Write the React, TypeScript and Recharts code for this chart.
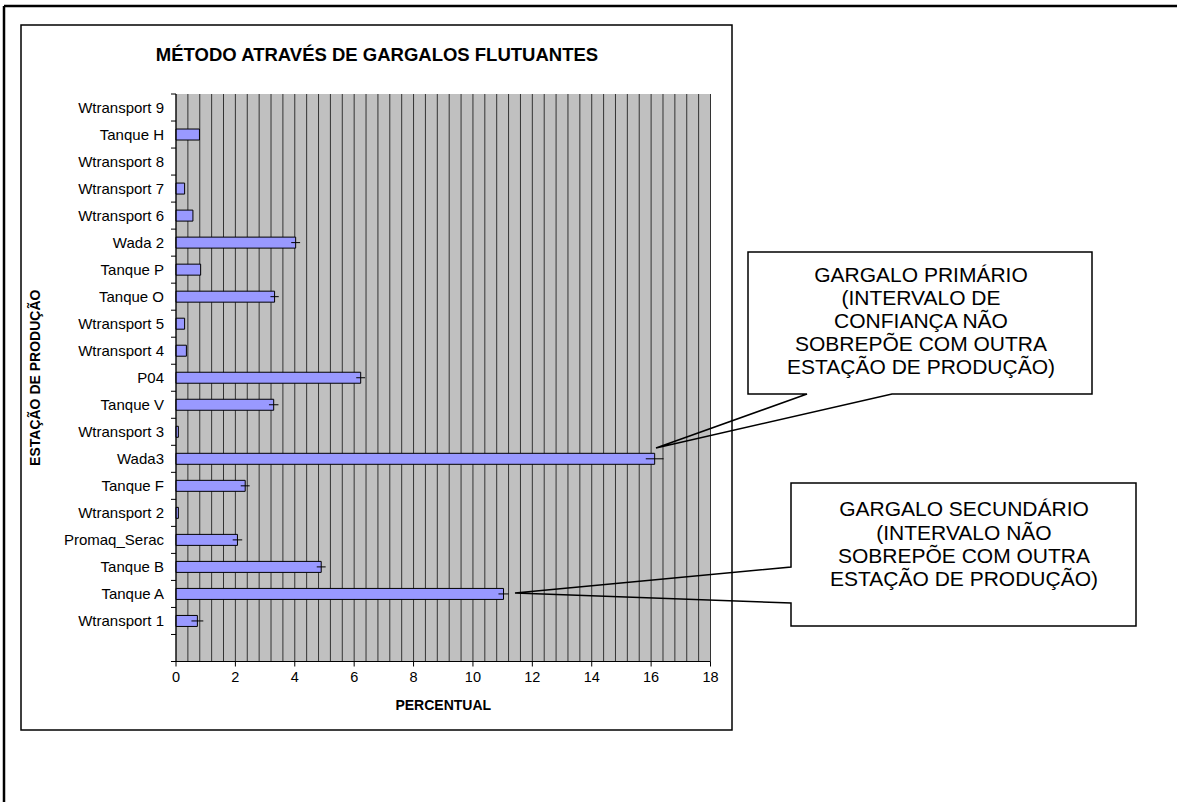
import { Bar, BarChart, CartesianGrid, ErrorBar, Label, XAxis, YAxis } from 'recharts';

const stations = [
  'Wtransport 9', 'Tanque H', 'Wtransport 8', 'Wtransport 7', 'Wtransport 6',
  'Wada 2', 'Tanque P', 'Tanque O', 'Wtransport 5', 'Wtransport 4',
  'P04', 'Tanque V', 'Wtransport 3', 'Wada3', 'Tanque F',
  'Wtransport 2', 'Promaq_Serac', 'Tanque B', 'Tanque A', 'Wtransport 1', '',
];
const percentual = [
  null, 0.79, null, 0.29, 0.57,
  4.03, 0.83, 3.32, 0.29, 0.35,
  6.22, 3.29, 0.08, 16.12, 2.33,
  0.08, 2.07, 4.89, 11.03, 0.72, null,
];
const halfInterval = [
  0, 0, 0, 0, 0,
  0.15, 0, 0.14, 0, 0,
  0.15, 0.16, 0, 0.3, 0.15,
  0, 0.16, 0.15, 0.17, 0.2, 0,
];
const xLabels = [0, 2, 4, 6, 8, 10, 12, 14, 16, 18];
// minor grid every 0.4
const gridTicks = Array.from({ length: 46 }, (_, i) => Math.round(i * 4) / 10);

const data = stations.map((name, i) => ({ name, pct: percentual[i], ci: halfInterval[i] }));

const FONT = '"Liberation Sans", Arial, sans-serif';

function StationTick(props: any) {
  const { x, y, payload, index } = props;
  const half = payload.offset ?? 13.5;
  return (
    <g>
      <text x={x - 12} y={y} textAnchor="end" dominantBaseline="central" fontSize={15} fontFamily={FONT} fill="#000">
        {payload.value}
      </text>
      <line x1={x - 5} x2={x} y1={y + half} y2={y + half} stroke="#000" />
      {index === 0 && <line x1={x - 5} x2={x} y1={y - half} y2={y - half} stroke="#000" />}
    </g>
  );
}

function PctTick(props: any) {
  const { x, y, payload } = props;
  const v = payload.value;
  if (!xLabels.some((l) => Math.abs(l - v) < 1e-6)) return null;
  return (
    <g>
      <line x1={x} x2={x} y1={y} y2={y + 5} stroke="#000" />
      <text x={x} y={y + 15} textAnchor="middle" dominantBaseline="central" fontSize={14.5} fontFamily={FONT} fill="#000">
        {v}
      </text>
    </g>
  );
}

export default function App() {
  return (
    <div style={{ position: 'absolute', left: 0, top: 0, width: 1177, height: 802, background: '#fff', overflow: 'hidden' }}>
      <div style={{ position: 'absolute', left: 21, top: 25 }}>
        <BarChart
          width={711}
          height={705}
          data={data}
          layout="vertical"
          margin={{ top: 69, right: 21.5, bottom: 18.5, left: 0 }}
          barSize={11}
        >
          <CartesianGrid horizontal={false} stroke="#333" fill="#C0C0C0" fillOpacity={1} />
          <XAxis
            type="number"
            domain={[0, 18]}
            ticks={gridTicks}
            interval={0}
            tickLine={false}
            tickSize={0}
            tickMargin={0}
            tick={<PctTick />}
            axisLine={{ stroke: '#000' }}
            height={50}
          >
            <Label
              content={({ viewBox }: any) => (
                <text
                  x={viewBox.x + viewBox.width / 2}
                  y={viewBox.y + 43.5}
                  textAnchor="middle"
                  dominantBaseline="central"
                  fontSize={14}
                  fontWeight="bold"
                  fontFamily={FONT}
                >
                  PERCENTUAL
                </text>
              )}
            />
          </XAxis>
          <YAxis
            type="category"
            dataKey="name"
            width={155}
            interval={0}
            tickLine={false}
            tickSize={0}
            tickMargin={0}
            tick={<StationTick />}
            axisLine={{ stroke: '#000' }}
          >
            <Label
              content={({ viewBox }: any) => {
                const cx = viewBox.x + 14;
                const cy = viewBox.y + viewBox.height / 2;
                return (
                  <text
                    x={cx}
                    y={cy}
                    transform={`rotate(-90, ${cx}, ${cy})`}
                    textAnchor="middle"
                    dominantBaseline="central"
                    fontSize={14}
                    fontWeight="bold"
                    fontFamily={FONT}
                  >
                    ESTAÇÃO DE PRODUÇÃO
                  </text>
                );
              }}
            />
          </YAxis>
          <Bar dataKey="pct" fill="#9999FF" stroke="#000" strokeWidth={1} isAnimationActive={false}>
            <ErrorBar dataKey="ci" direction="x" width={0} stroke="#000" strokeWidth={1} isAnimationActive={false} />
          </Bar>
        </BarChart>
      </div>
      <svg
        width={1177}
        height={802}
        style={{ position: 'absolute', left: 0, top: 0, pointerEvents: 'none' }}
        fontFamily={FONT}
      >
        <line x1={4} y1={6} x2={1177} y2={6} stroke="#000" strokeWidth={2.5} />
        <line x1={4} y1={6} x2={4} y2={802} stroke="#000" strokeWidth={2.5} />
        <rect x={21} y={25} width={711} height={705} fill="none" stroke="#000" strokeWidth={1.5} />
        <text x={377} y={54} textAnchor="middle" dominantBaseline="central" fontSize={18.5} fontWeight="bold">
          MÉTODO ATRAVÉS DE GARGALOS FLUTUANTES
        </text>

        <path
          d="M748,252 L1092,252 L1092,394 L892,394 L656,448 L807,394 L748,394 Z"
          fill="none"
          stroke="#000"
          strokeWidth={1.5}
        />
        <g fontSize={21} textAnchor="middle">
          <text x={921} y={274} dominantBaseline="central">GARGALO PRIMÁRIO</text>
          <text x={921} y={297} dominantBaseline="central">(INTERVALO DE</text>
          <text x={921} y={320} dominantBaseline="central">CONFIANÇA NÃO</text>
          <text x={921} y={343} dominantBaseline="central">SOBREPÕE COM OUTRA</text>
          <text x={921} y={366} dominantBaseline="central">ESTAÇÃO DE PRODUÇÃO)</text>
        </g>

        <path
          d="M791,483 L1136,483 L1136,626 L791,626 L791,603 L515,593 L791,567 Z"
          fill="none"
          stroke="#000"
          strokeWidth={1.5}
        />
        <g fontSize={21} textAnchor="middle">
          <text x={964} y={508} dominantBaseline="central">GARGALO SECUNDÁRIO</text>
          <text x={964} y={532} dominantBaseline="central">(INTERVALO NÃO</text>
          <text x={964} y={555} dominantBaseline="central">SOBREPÕE COM OUTRA</text>
          <text x={964} y={578} dominantBaseline="central">ESTAÇÃO DE PRODUÇÃO)</text>
        </g>
      </svg>
    </div>
  );
}
